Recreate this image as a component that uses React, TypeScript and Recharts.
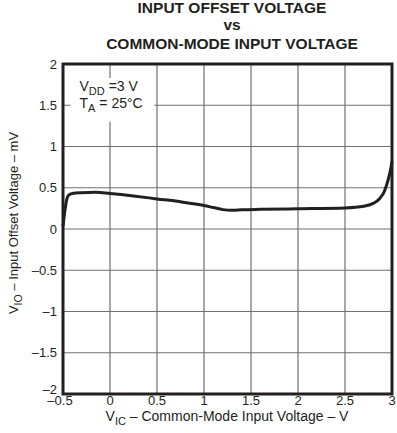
import React from "react";
import {
  LineChart,
  Line,
  XAxis,
  YAxis,
  CartesianGrid,
  ReferenceArea,
} from "recharts";

// V_IC (V) vs V_IO (mV)
const vic = [
  -0.5, -0.48, -0.46, -0.44, -0.4, -0.3, -0.15, 0, 0.25, 0.5, 0.75, 1, 1.1,
  1.2, 1.3, 1.4, 1.6, 2, 2.5, 2.7, 2.8, 2.87, 2.92, 2.96, 2.99, 3,
];
const vio = [
  0.03, 0.22, 0.36, 0.41, 0.43, 0.44, 0.445, 0.43, 0.4, 0.365, 0.33, 0.285,
  0.26, 0.235, 0.226, 0.232, 0.238, 0.245, 0.255, 0.275, 0.31, 0.37, 0.46,
  0.6, 0.75, 0.82,
];
const xTicks = [-0.5, 0, 0.5, 1, 1.5, 2, 2.5, 3];
const yTicks = [-2, -1.5, -1, -0.5, 0, 0.5, 1, 1.5, 2];

const data = vic.map((x, i) => ({ x, y: vio[i] }));

const FONT = "'Liberation Sans', Arial, sans-serif";
const dash = (v: number) => String(v).replace("-", "–");

const Note = (props: any) => {
  const { x, y } = props.viewBox;
  return (
    <g fontFamily={FONT} fontSize={14} fill="#231f20">
      <text x={x + 9} y={y + 13}>
        V<tspan fontSize={11} dy={4}>DD</tspan>
        <tspan dy={-4}> =3 V</tspan>
      </text>
      <text x={x + 9} y={y + 30}>
        T<tspan fontSize={11} dy={4}>A</tspan>
        <tspan dy={-4}> = 25°C</tspan>
      </text>
    </g>
  );
};

// y tick; the bottom one sits a bit higher, clear of the x labels
const YTick = (props: any) => {
  const { x, y, payload } = props;
  const lift = payload.value === -2 ? -5 : 0;
  return (
    <text
      x={x}
      y={y + lift}
      dy="0.355em"
      textAnchor="end"
      fontFamily={FONT}
      fontSize={13}
      fill="#231f20"
    >
      {dash(payload.value)}
    </text>
  );
};

// x tick; the first one is nudged left like in the print
const XTick = (props: any) => {
  const { x, y, payload } = props;
  const shift = payload.value === -0.5 ? -3 : 0;
  return (
    <text
      x={x + shift}
      y={y}
      dy="0.71em"
      textAnchor="middle"
      fontFamily={FONT}
      fontSize={13}
      fill="#231f20"
    >
      {dash(payload.value)}
    </text>
  );
};

const XLabel = () => (
  <text x={227} y={421} textAnchor="middle" fontFamily={FONT} fontSize={14} fill="#231f20">
    V<tspan fontSize={11} dy={4}>IC</tspan>
    <tspan dy={-4}> – Common-Mode Input Voltage – V</tspan>
  </text>
);

const YLabel = () => (
  <text
    x={18}
    y={223}
    transform="rotate(-90 18 223)"
    textAnchor="middle"
    fontFamily={FONT}
    fontSize={13}
    fill="#231f20"
  >
    V<tspan fontSize={10.5} dy={4}>IO</tspan>
    <tspan dy={-4}>  – Input Offset Voltage – mV</tspan>
  </text>
);

export default function App() {
  return (
    <div style={{ position: "absolute", left: 0, top: 0, width: 397, height: 433, background: "#fff" }}>
      <svg width={397} height={60} style={{ position: "absolute", left: 0, top: 0 }}>
        <g fontFamily={FONT} fontWeight="bold" fontSize={15.5} fill="#231f20" textAnchor="middle">
          <text x={232} y={13}>INPUT OFFSET VOLTAGE</text>
          <text x={232} y={30}>vs</text>
          <text x={232} y={49}>COMMON-MODE INPUT VOLTAGE</text>
        </g>
      </svg>
      <div style={{ position: "absolute", left: 0, top: 0 }}>
        <LineChart
          width={397}
          height={433}
          data={data}
          margin={{ top: 64, right: 5, bottom: 9, left: 8 }}
        >
          <CartesianGrid stroke="#707070" strokeWidth={1.2} />
          <XAxis
            dataKey="x"
            type="number"
            domain={[-0.5, 3]}
            ticks={xTicks}
            axisLine={false}
            tickLine={false}
            tickSize={0}
            tickMargin={2}
            tick={<XTick />}
            height={30}
            label={{ value: "x", content: XLabel }}
          />
          <YAxis
            type="number"
            domain={[-2, 2]}
            ticks={yTicks}
            axisLine={false}
            tickLine={false}
            tickSize={0}
            tickMargin={6}
            width={55}
            tick={<YTick />}
            label={{ value: "y", content: YLabel }}
          />
          <ReferenceArea
            x1={-0.42}
            x2={0.47}
            y1={1.3}
            y2={1.83}
            fill="#fff"
            fillOpacity={1}
            stroke="none"
            label={<Note />}
          />
          <Line
            type="monotone"
            dataKey="y"
            stroke="#231f20"
            strokeWidth={3}
            dot={false}
            isAnimationActive={false}
          />
          <ReferenceArea
            x1={-0.5}
            x2={3}
            y1={-2}
            y2={2}
            fill="none"
            stroke="#231f20"
            strokeWidth={3}
            ifOverflow="visible"
          />
        </LineChart>
      </div>
    </div>
  );
}
